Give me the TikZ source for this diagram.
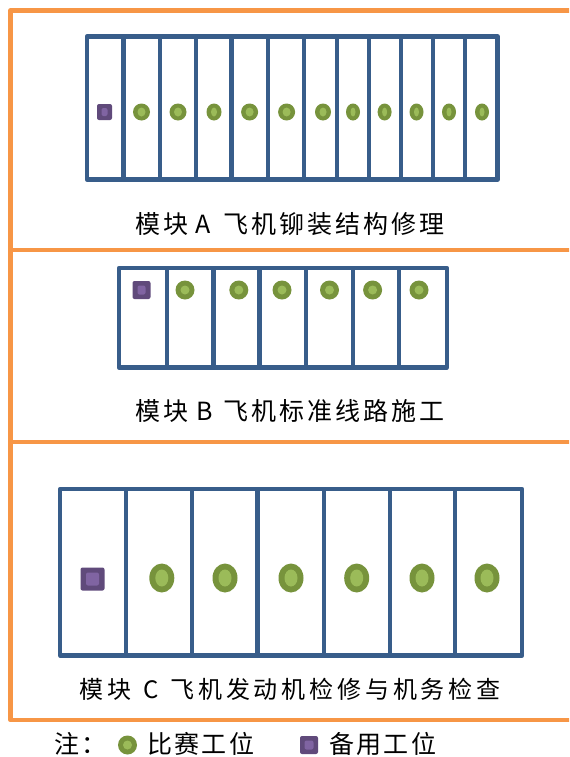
\documentclass[tikz,border=0pt]{standalone}
\usepackage{fontspec}
\setmainfont{Noto Sans CJK SC}
\newfontfamily\labfont[LetterSpace=12]{Noto Sans CJK SC}
\newfontfamily\labfontc[LetterSpace=16]{Noto Sans CJK SC}
\newfontfamily\legfont[LetterSpace=9]{Noto Sans CJK SC}
\usetikzlibrary{shapes.geometric}
\definecolor{frameorange}{HTML}{F79646}
\definecolor{gridblue}{HTML}{385D8A}
\definecolor{gdark}{HTML}{77933C}
\definecolor{glight}{HTML}{9BBB59}
\definecolor{pdark}{HTML}{604A7B}
\definecolor{plight}{HTML}{8064A2}
\def\pxu{0.75pt}
\tikzset{
  frameline/.style={draw=frameorange, line width=4.8*\pxu, line join=round},
  gridline/.style={draw=gridblue, line width=4.4*\pxu, line join=round, line cap=rect},
  gmark/.style n args={4}{ellipse, fill=gdark, inner sep=0pt, outer sep=0pt,
     minimum width=#1*\pxu, minimum height=#2*\pxu,
     path picture={\fill[glight] (path picture bounding box.center) ellipse [x radius=#3*\pxu/2, y radius=#4*\pxu/2];}},
  pmark/.style n args={4}{rectangle, fill=pdark, rounded corners=1.5pt, inner sep=0pt, outer sep=0pt,
     minimum width=#1*\pxu, minimum height=#2*\pxu,
     path picture={\fill[plight] ([xshift=-#3*\pxu/2, yshift=-#4*\pxu/2]path picture bounding box.center) rectangle ++(#3*\pxu, #4*\pxu);}},
  labab/.style={anchor=base west, inner sep=0pt, font=\labfont\fontsize{18.75pt}{20pt}\selectfont},
  labc/.style={anchor=base west, inner sep=0pt, font=\labfontc\fontsize{18pt}{20pt}\selectfont},
  legtext/.style={anchor=base west, inner sep=0pt, font=\legfont\fontsize{18.75pt}{20pt}\selectfont},
}
\begin{document}
\begin{tikzpicture}[x=0.75pt, y=-0.75pt]
\useasboundingbox (0,0) rectangle (569,757);
\clip (0,0) rectangle (569,757);
\fill[white] (0,0) rectangle (569,757);
% orange frame
\draw[frameline] (580,10.5) -- (10.5,10.5) -- (10.5,720) -- (580,720);
\draw[frameline] (10.5,250) -- (580,250);
\draw[frameline] (10.5,442) -- (580,442);
% module A grid
\draw[gridline] (87,36.5) rectangle (497.5,179.5);
\foreach \x in {123.4,159.7,196,231.5,267.8,304,336.7,369,401,432.9,465.2}
  \draw[gridline] (\x,36.5) -- (\x,179.5);
\node[pmark={15}{16}{6}{8}] (as) at (104.5,112) {};
\foreach \x/\w/\v [count=\i] in {141.5/17/8,178/17/8,214/15/6,249.6/17/8,286.6/17/8,323/16/7,353/14/5,384.6/14/5,416.5/14/5,449/14/5,482/14/5}
  \node[gmark={\w}{17}{\v}{9}] (a\i) at (\x,112) {};
\node[labab] (labA) at (135,233) {模块\hspace{5.6pt}A\hspace{9.5pt}飞机铆装结构修理};
% module B grid
\draw[gridline] (119,268) rectangle (446.8,367.5);
\foreach \x in {166.9,213.4,259.4,305.9,352.7,399.1}
  \draw[gridline] (\x,268) -- (\x,367.5);
\node[pmark={18}{18}{8}{9}] (bs) at (141.5,290) {};
\foreach \x [count=\i] in {185,238.8,282,329.5,372.6,419}
  \node[gmark={19}{19}{9}{9}] (b\i) at (\x,290) {};
\node[labab] (labB) at (135,420) {模块\hspace{6pt}B\hspace{8pt}飞机标准线路施工};
% module C grid
\draw[gridline] (60.2,489) rectangle (522,655.5);
\foreach \x in {126,192,257.6,323.7,390,455}
  \draw[gridline] (\x,489) -- (\x,655.5);
\node[pmark={24}{23}{13}{13}] (cs) at (92.5,579) {};
\foreach \x [count=\i] in {161.8,225,291,356.7,422,487}
  \node[gmark={25}{29}{13}{17}] (c\i) at (\x,578) {};
\node[labc] (labC) at (79,698.5) {模块\hspace{9pt}C\hspace{9pt}飞机发动机检修与机务检查};
% legend
\node[legtext] (note) at (54,753.5) {注：};
\node[gmark={19}{19}{9}{9}] (lg) at (127.5,745) {};
\node[legtext] (lgt) at (147,753.5) {比赛工位};
\node[pmark={18}{18}{9}{9}] (lp) at (309,745) {};
\node[legtext] (lpt) at (329,753.5) {备用工位};
\end{tikzpicture}
\end{document}
